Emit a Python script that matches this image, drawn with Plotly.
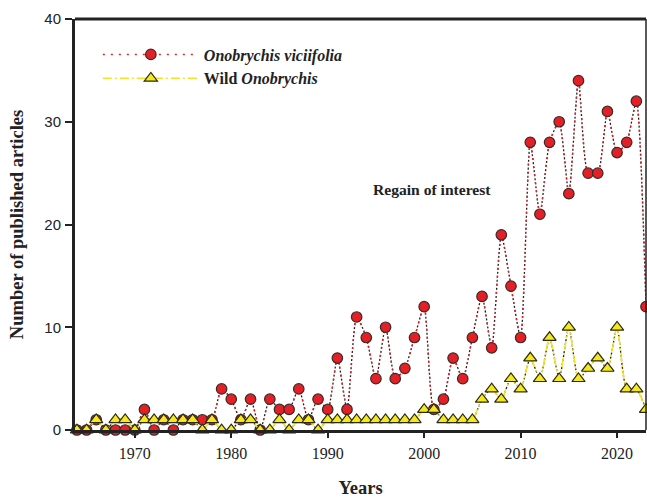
import plotly.graph_objects as go

years = list(range(1964, 2024))
viciifolia = [0, 0, 1, 0, 0, 0, 0, 2, 0, 1,
              0, 1, 1, 1, 1, 4, 3, 1, 3, 0,
              3, 2, 2, 4, 1, 3, 2, 7, 2, 11,
              9, 5, 10, 5, 6, 9, 12, 2, 3, 7,
              5, 9, 13, 8, 19, 14, 9, 28, 21, 28,
              30, 23, 34, 25, 25, 31, 27, 28, 32, 12]
wild = [0, 0, 1, 0, 1, 1, 0, 1, 1, 1,
        1, 1, 1, 0, 1, 0, 0, 1, 1, 0,
        0, 1, 0, 1, 1, 0, 1, 1, 1, 1,
        1, 1, 1, 1, 1, 1, 2, 2, 1, 1,
        1, 1, 3, 4, 3, 5, 4, 7, 5, 9,
        5, 10, 5, 6, 7, 6, 10, 4, 4, 2]

serif = "Liberation Serif, Times New Roman, serif"
sans = "Liberation Sans, Arial, sans-serif"

fig = go.Figure()

# black under-layers to mimic the two-tone dotted lines
fig.add_trace(go.Scatter(x=years, y=viciifolia, mode="lines", showlegend=False,
                         line=dict(color="#222222", width=1.3, dash="2px,2px", shape="spline", smoothing=0.6),
                         hoverinfo="skip", cliponaxis=False))
fig.add_trace(go.Scatter(x=years, y=wild, mode="lines", showlegend=False,
                         line=dict(color="#222222", width=1.3, dash="2px,2px", shape="spline", smoothing=0.6),
                         hoverinfo="skip", cliponaxis=False))

fig.add_trace(go.Scatter(
    x=years, y=viciifolia, mode="lines+markers",
    name="<b><i>Onobrychis viciifolia</i></b>",
    line=dict(color="#e8202a", width=1.5, dash="2px,6px", shape="spline", smoothing=0.6),
    marker=dict(symbol="circle", size=10.5, color="#e41f26", line=dict(color="#3a2a2a", width=1.2)),
    cliponaxis=False))
fig.add_trace(go.Scatter(
    x=years, y=wild, mode="lines+markers",
    name="<b>Wild <i>Onobrychis</i></b>",
    line=dict(color="#f2e526", width=1.6, dash="9px,3px,2px,3px", shape="spline", smoothing=0.6),
    marker=dict(symbol="triangle-up", size=11.5, color="#f5e81c", line=dict(color="#2a2a10", width=1.2)),
    cliponaxis=False))

fig.add_annotation(x=2000.85, y=23.4, xref="x", yref="y", text="<b>Regain of interest</b>",
                   showarrow=False, font=dict(family=serif, size=15.6, color="#222222"))

fig.update_layout(
    width=647, height=498,
    margin=dict(l=75, r=1, t=19, b=68),
    paper_bgcolor="white", plot_bgcolor="white",
    showlegend=True,
    legend=dict(x=0.04, y=0.955, xanchor="left", yanchor="top",
                bgcolor="rgba(0,0,0,0)", font=dict(family=serif, size=16, color="#222222"),
                itemwidth=96, tracegroupgap=0),
    font=dict(family=serif, color="#222222"),
)
fig.update_xaxes(
    range=[1963.8, 2023.0], tickvals=[1970, 1980, 1990, 2000, 2010, 2020],
    ticks="outside", ticklen=5, tickwidth=2, tickcolor="#222222",
    showline=True, linecolor="#222222", linewidth=3, mirror=False,
    showgrid=False, zeroline=False,
    tickfont=dict(family=serif, size=16, color="#222222"),
    ticklabelstandoff=2,
    tickprefix="<b>", ticksuffix="</b>",
    title=dict(text="<b>Years</b>", font=dict(family=serif, size=18.5, color="#222222"), standoff=21),
)
fig.update_yaxes(
    range=[0, 40], tickvals=[0, 10, 20, 30, 40],
    ticks="outside", ticklen=7, tickwidth=2, tickcolor="#222222",
    showline=True, linecolor="#222222", linewidth=3, mirror=False,
    showgrid=False, zeroline=False,
    tickfont=dict(family=sans, size=15, color="#222222"),
    ticklabelstandoff=1,
    tickprefix="<b>", ticksuffix="</b>",
    title=dict(text="<b>Number of published articles</b>", font=dict(family=serif, size=18.5, color="#222222"), standoff=16),
)
# top and right frame
fig.add_shape(type="line", xref="paper", yref="paper", x0=0, x1=1, y0=1, y1=1,
              line=dict(color="#222222", width=3))
fig.add_shape(type="line", xref="paper", yref="paper", x0=1, x1=1, y0=0, y1=1,
              line=dict(color="#222222", width=1.5))

fig.write_html("out.html", config={"displayModeBar": False},
               post_script="document.body.style.margin='0';document.body.style.overflow='hidden';")
